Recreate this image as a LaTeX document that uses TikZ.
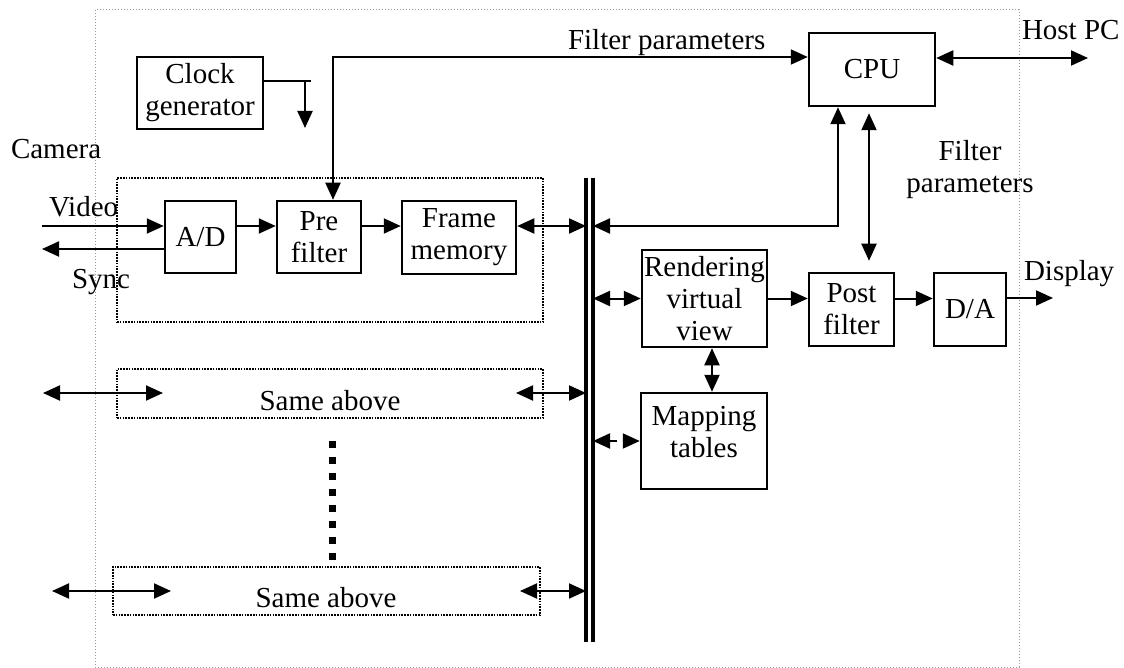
\documentclass[tikz,border=0pt]{standalone}
\usepackage{fontspec}
\setmainfont{Liberation Serif}
\usetikzlibrary{arrows.meta}

\begin{document}
\begin{tikzpicture}[x=1pt,y=-1pt,line width=2pt,
        font=\fontsize{29}{32}\selectfont,
        >={Triangle[length=17pt,width=15pt]},
        box/.style={draw,line width=2.5pt,inner sep=0pt,align=center},
        dotbox/.style={draw,line width=2pt,dash pattern=on 1.6pt off 1.2pt,inner sep=0pt},
        lbl/.style={inner sep=0pt}]
    \useasboundingbox (0,0) rectangle (1124,668);

    \draw[gray!80,line width=1pt,dash pattern=on 1pt off 2pt] (95,10) rectangle (1019,667);

    \node[dotbox,minimum width=426pt,minimum height=144pt] (cam) at (330,250) {};
    \node[dotbox,minimum width=426pt,minimum height=49pt] (same1) at (330,393.5) {};
    \node[dotbox,minimum width=427pt,minimum height=48pt] (same2) at (326.5,591) {};
    \node[lbl,anchor=base] (same1txt) at (330,410) {Same above};
    \node[lbl,anchor=base] (same2txt) at (326,607) {Same above};

    \node[box,minimum width=126pt,minimum height=72pt] (clk) at (200,93) {Clock\\generator};
    \node[box,minimum width=71pt,minimum height=72pt] (ad) at (200.5,237) {A/D};
    \node[box,minimum width=84pt,minimum height=72pt] (pre) at (319,237) {Pre\\filter};
    \node[box,minimum width=114pt,minimum height=73pt] (frame) at (459,237.5) {Frame\\memory};
    \node[box,minimum width=126pt,minimum height=73pt] (cpu) at (872,69.5) {CPU};
    \node[box,minimum width=125pt,minimum height=97pt] (render) at (704.5,298.5) {Rendering\\virtual\\view};
    \node[box,minimum width=85pt,minimum height=73pt] (post) at (851.5,309.5) {Post\\filter};
    \node[box,minimum width=72pt,minimum height=73pt] (da) at (970,309.5) {D/A};
    \node[box,minimum width=126pt,minimum height=96pt] (map) at (704,441) {};
    \node[lbl,align=center] (maptxt) at ([yshift=9pt]map.center) {Mapping\\tables};

    \node[lbl,anchor=base west] (camera) at (10,159) {Camera};
    \node[lbl,anchor=base west] (video) at (48,217) {Video};
    \node[lbl,anchor=base west] (sync) at (71,288) {Sync};
    \node[lbl,anchor=base west] (fpar) at (567,50) {Filter parameters};
    \node[lbl,anchor=base west] (host) at (1021,40) {Host PC};
    \node[lbl,align=center] (fpar2) at (970,170) {Filter\\parameters};
    \node[lbl,anchor=base west] (disp) at (1023,280) {Display};

    % bus
    \coordinate (busL) at (586,178);
    \coordinate (busR) at (593,178);
    \draw[line width=3.5pt] (busL) -- ++(0,464) (busR) -- ++(0,464);

    \coordinate (vid) at (42,226);
    \coordinate (syn) at (42,249);
    \coordinate (fp) at (333,57);
    \coordinate (hpc) at (1088,58);
    \coordinate (cp) at (869,0);
    \coordinate (clkout) at (311,81);
    \coordinate (clkdn) at (305,128);
    \coordinate (dsp) at (1053,298);
    \coordinate (rm) at (712,0);

    \draw[->] (vid) -- (vid -| ad.west);
    \draw[->] (ad.west |- syn) -- (syn);
    \draw[->] (ad.east |- vid) -- (pre.west |- vid);
    \draw[->] (pre.east |- vid) -- (frame.west |- vid);
    \draw[<->] (frame.east |- vid) -- (busL |- vid);
    \draw[<->] (busR |- vid) -| ([xshift=-34pt]cpu.south);
    \draw[<->] (pre.north -| fp) -- (fp) -- (cpu.west |- fp);
    \draw[<->] (cpu.east |- hpc) -- (hpc);
    \draw[<->,shorten <=6pt,shorten >=11pt] (cpu.south -| cp) -- (post.north -| cp);

    \draw (clk.east |- clkout) -- (clkout);
    \draw[->] (clkdn |- clkout) -- (clkdn);

    \draw[<->] (busR |- render.west) -- (render.west);
    \draw[->] (render.east) -- (post.west |- render.east);
    \draw[->] (post.east |- render.east) -- (da.west |- render.east);
    \draw[->] (da.east |- dsp) -- (dsp);
    \draw[<->] (render.south -| rm) -- (map.north -| rm);
    \draw[<->,dash pattern=on 7pt off 6pt] (busR |- map.west) -- (map.west);

    % the other camera channels
    \coordinate (s1a) at (43,393);
    \coordinate (s1b) at (163,393);
    \coordinate (s1c) at (516,393);
    \coordinate (s2a) at (52,591);
    \coordinate (s2b) at (171,591);
    \coordinate (s2c) at (520,591);
    \draw[<->] (s1a) -- (s1b);
    \draw[<->] (s1c) -- (busL |- s1c);
    \draw[<->] (s2a) -- (s2b);
    \draw[<->] (s2c) -- (busL |- s2c);

    \draw[line width=7pt,dash pattern=on 7pt off 9pt] (332,441) -- (332,560);
\end{tikzpicture}
\end{document}
